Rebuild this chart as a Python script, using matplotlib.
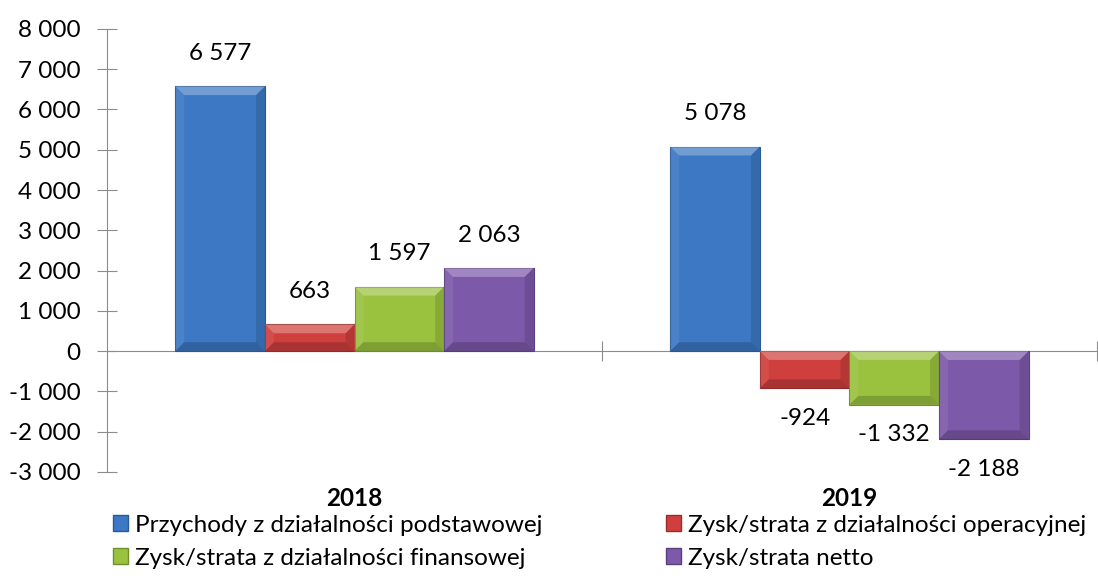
import numpy as np
import matplotlib
matplotlib.use("Agg")
from matplotlib import pyplot as plt
from matplotlib.patches import Patch, Polygon

years = ['2018', '2019']
series = ['Przychody z działalności podstawowej',
          'Zysk/strata z działalności operacyjnej',
          'Zysk/strata z działalności finansowej',
          'Zysk/strata netto']
przychody = [6577, 5078]
operacyjna = [663, -924]
finansowa = [1597, -1332]
netto = [2063, -2188]
colors = ['#3C78C3', '#CF3F3D', '#9AC23F', '#7D59AA']
edges = ['#2A5A96', '#9A2B2A', '#6F8F2A', '#5A3E80']

plt.rcParams['font.family'] = ['Lato', 'DejaVu Sans']
FS = 17.5

fig = plt.figure(figsize=(10.98, 5.79), dpi=100)
ax = fig.add_axes([0.0975, 0.185, 0.9015, 0.765])

values = [przychody, operacyjna, finansowa, netto]
x = np.arange(len(years))
w = 0.181
bx, by = 0.018, 220  # bevel size in data units (~9 px)

def bevel(rect):
    x0, y0 = rect.get_x(), rect.get_y()
    x1, y1 = x0 + rect.get_width(), y0 + rect.get_height()
    y0, y1 = min(y0, y1), max(y0, y1)
    dy = min(by, (y1 - y0) / 2)
    dx = bx
    top = [(x0, y1), (x1, y1), (x1 - dx, y1 - dy), (x0 + dx, y1 - dy)]
    bot = [(x0, y0), (x1, y0), (x1 - dx, y0 + dy), (x0 + dx, y0 + dy)]
    lft = [(x0, y0), (x0, y1), (x0 + dx, y1 - dy), (x0 + dx, y0 + dy)]
    rgt = [(x1, y0), (x1, y1), (x1 - dx, y1 - dy), (x1 - dx, y0 + dy)]
    for pts, c, a in [(top, 'white', 0.28), (bot, 'black', 0.18),
                      (lft, 'white', 0.08), (rgt, 'black', 0.12)]:
        ax.add_patch(Polygon(pts, closed=True, facecolor=c, alpha=a,
                             edgecolor='none', zorder=4))

for i, vals in enumerate(values):
    pos = x + (i - 1.5) * w
    bars = ax.bar(pos, vals, w, color=colors[i], edgecolor=edges[i],
                  linewidth=0.8, zorder=3)
    for r in bars:
        bevel(r)
    for p, v in zip(pos, vals):
        off = 33 if v >= 0 else -30
        ax.annotate(f"{v:,}".replace(",", " "), (p, v), xytext=(0, off),
                    textcoords='offset pixels', ha='center', va='center', fontsize=FS)

ax.set_xlim(-0.5, 1.5)
ax.set_ylim(-3000, 8000)
ticks = list(range(-3000, 8001, 1000))
ax.set_yticks(ticks)
ax.set_yticklabels([f"{t:,}".replace(",", " ") for t in ticks], fontsize=FS)

for s in ['top', 'right']:
    ax.spines[s].set_visible(False)
ax.spines['bottom'].set_position(('data', 0))
ax.spines['bottom'].set_color('#8C8C8C')
ax.spines['left'].set_color('#8C8C8C')
ax.tick_params(axis='y', direction='inout', length=14, color='#8C8C8C', pad=12)
ax.set_xticks([0.5, 1.5])
ax.set_xticklabels([])
ax.tick_params(axis='x', direction='inout', length=14, color='#8C8C8C')

for xi, yr in zip(x, years):
    ax.text(xi, -3650, yr, ha='center', va='center', fontsize=FS, fontweight='bold')

handles = [Patch(facecolor=c, edgecolor=e) for c, e in zip(colors, edges)]
order = [0, 2, 1, 3]
fig.legend([handles[i] for i in order], [series[i] for i in order],
           ncol=2, loc='lower left', bbox_to_anchor=(0.083, -0.02), frameon=False,
           fontsize=FS, handlelength=0.6, handleheight=0.6, handletextpad=0.3,
           columnspacing=5.1, labelspacing=0.5)

fig.savefig('out.png', dpi=100)
